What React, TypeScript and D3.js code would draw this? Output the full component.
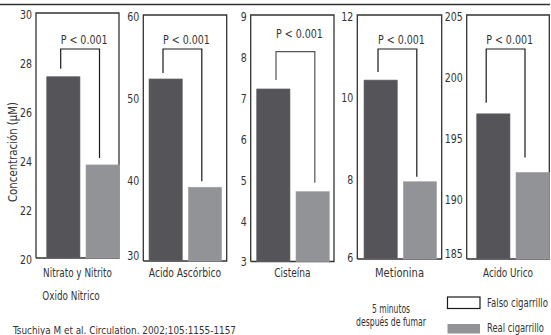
import React, { useLayoutEffect, useRef, useState } from "react";
import * as d3 from "d3";

// values
const analitos = ["Nitrato y Nitrito", "Acido Ascórbico", "Cisteína", "Metionina", "Acido Urico"];
const falsoCigarrillo = [27.4, 52.2, 7.2, 10.4, 196.9];
const realCigarrillo = [23.8, 39.0, 4.7, 7.9, 192.1];
const yDomains: [number, number][] = [[20, 30], [30, 60], [3, 9], [6, 12], [185, 205]];
const yTicks = [
  [20, 22, 24, 26, 28, 30],
  [30, 40, 50, 60],
  [3, 4, 5, 6, 7, 8, 9],
  [6, 8, 10, 12],
  [185, 190, 195, 200, 205],
];
const pLabel = "P < 0.001";
const grupos = ["falso", "real"];
const legendLabels = ["Falso cigarrillo", "Real cigarrillo"];

// panel layout
const boxLeft = [36, 143.3, 250.7, 357.3, 466.7];
const boxRight = [119, 226.7, 334, 441.7, 549.3];
const boxTop = [13, 15, 15, 15, 15];
const boxBottom = [258, 261, 261.5, 259, 259];
const barOffset = [10.7, 5.7, 6, 6.7, 10];
const bracketShift = [14, 14, 19.3, 14, 9.5];
const bracketTop = [49, 49, 51.7, 49, 49];
const gapLeft = [8, 6, 9, 8, 11];
const gapRight = [7, 6, 9, 5, 15];
const pTextY = [44, 44, 37.5, 44, 44];
const bottomLabelShift = [0, -7, -2, -3, -7];
const nameWidth = [68.7, 72.3, 36.4, 49, 50];
const legendWidth = [61, 57];

const DARK = "#555559";
const LIGHT = "#929396";
const INK = "#333";
const FONT = "'Liberation Sans Narrow', 'DejaVu Sans Condensed', 'Roboto', sans-serif";

// text squeezed horizontally to the width it has in the figure (condensed face)
function Label(props: {
  x: number;
  y: number;
  w: number;
  anchor?: string;
  size?: number;
  children: React.ReactNode;
}) {
  const ref = useRef<SVGTextElement>(null);
  const [k, setK] = useState(0.8);
  useLayoutEffect(() => {
    if (ref.current) {
      const n = ref.current.getComputedTextLength();
      if (n > 0) setK(props.w / n);
    }
  }, [props.w, props.children]);
  return (
    <g transform={`translate(${props.x},${props.y}) scale(${k},1)`}>
      <text ref={ref} textAnchor={props.anchor || "middle"} fontSize={props.size || 12} fill={INK}>
        {props.children}
      </text>
    </g>
  );
}

function Panel({ i }: { i: number }) {
  const y = d3.scaleLinear().domain(yDomains[i]).range([boxBottom[i], boxTop[i]]);
  const x = d3
    .scaleBand()
    .domain(grupos)
    .range([boxLeft[i] + barOffset[i], boxLeft[i] + barOffset[i] + 72.6])
    .paddingInner(0.153);
  const vals = [falsoCigarrillo[i], realCigarrillo[i]];
  const bx0 = (x("falso") || 0) + bracketShift[i];
  const bx1 = (x("real") || 0) + bracketShift[i] - 0.5;
  const by0 = y(vals[0]) - gapLeft[i];
  const by1 = y(vals[1]) - gapRight[i];
  const left = boxLeft[i];
  const right = boxRight[i];
  const top = boxTop[i];
  const bottom = boxBottom[i];
  return (
    <g>
      <path
        d={`M${left},${bottom}V${top}H${right}V${bottom}H${left}`}
        fill="none"
        stroke={INK}
        strokeWidth={1.3}
      />
      {grupos.map((g, j) => (
        <rect
          key={g}
          x={x(g)}
          y={y(vals[j])}
          width={x.bandwidth()}
          height={bottom - y(vals[j])}
          fill={j === 0 ? DARK : LIGHT}
          stroke={j === 0 ? "#6a6a6e" : "#a4a5a8"}
          strokeWidth={0.6}
        />
      ))}
      {yTicks[i].map((t, k) => (
        <Label
          key={t}
          x={left - 4}
          y={y(t) + 6 + (k === 0 ? bottomLabelShift[i] : 0)}
          w={String(t).length * 6}
          anchor="end"
          size={11.5}
        >
          {t}
        </Label>
      ))}
      <path
        d={`M${bx0},${by0}V${bracketTop[i]}H${bx1}V${by1}`}
        fill="none"
        stroke={i === 2 ? "#555" : "#1a1a1a"}
        strokeWidth={1.2}
      />
      <Label x={(bx0 + bx1) / 2 + 4} y={pTextY[i]} w={47}>
        {pLabel}
      </Label>
      <Label x={(left + right) / 2} y={276.5} w={nameWidth[i]} size={12.5}>
        {analitos[i]}
      </Label>
    </g>
  );
}

export default function App() {
  return (
    <svg
      width={551}
      height={335}
      style={{ position: "absolute", left: 0, top: 0, fontFamily: FONT, background: "#fff" }}
    >
      <line x1={0} x2={550} y1={4.5} y2={4.5} stroke={INK} strokeWidth={1.5} />
      {analitos.map((_, i) => (
        <Panel key={i} i={i} />
      ))}
      <g transform="translate(17,152) rotate(-90)">
        <Label x={0} y={0} w={100} size={12}>
          Concentración (µM)
        </Label>
      </g>
      <Label x={71} y={300} w={57.3} size={12.5}>
        Oxido Nitrico
      </Label>
      <Label x={391} y={313} w={38} size={11.5}>
        5 minutos
      </Label>
      <Label x={391} y={326} w={70} size={11.5}>
        después de fumar
      </Label>
      {legendLabels.map((l, j) => (
        <g key={l}>
          <rect
            x={447.5}
            y={j === 0 ? 297 : 324}
            width={32.5}
            height={j === 0 ? 11.5 : 9.5}
            fill={j === 0 ? "#fff" : LIGHT}
            stroke={j === 0 ? "#1a1a1a" : "none"}
            strokeWidth={1.2}
          />
          <Label x={487} y={j === 0 ? 307 : 332} w={legendWidth[j]} anchor="start" size={12}>
            {l}
          </Label>
        </g>
      ))}
      <Label x={13} y={333.5} w={223} anchor="start" size={11}>
        Tsuchiya M et al. Circulation. 2002;105:1155-1157
      </Label>
    </svg>
  );
}
